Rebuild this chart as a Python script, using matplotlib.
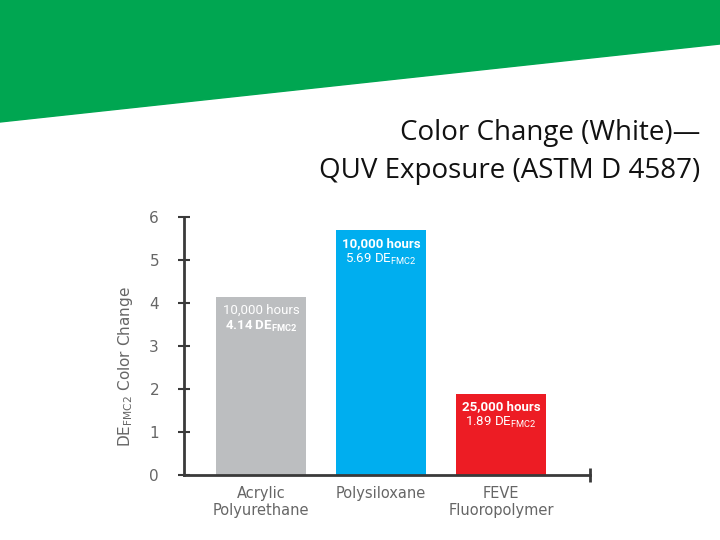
import matplotlib.pyplot as plt
from matplotlib.patches import Polygon

categories = ["Acrylic\nPolyurethane", "Polysiloxane", "FEVE\nFluoropolymer"]
values = [4.14, 5.69, 1.89]
hours = ["10,000 hours", "10,000 hours", "25,000 hours"]
colors = ["#BCBEC0", "#00AEEF", "#ED1C24"]
yticks = [0, 1, 2, 3, 4, 5, 6]

axis_col = "#3a3a3a"
label_col = "#666666"
narrow = ["Roboto", "DejaVu Sans"]

fig = plt.figure(figsize=(7.2, 5.4), dpi=100)

# green banner on top
banner = Polygon([(0, 1), (1, 1), (1, 1 - 44 / 540), (0, 1 - 122 / 540)],
                 closed=True, transform=fig.transFigure, color="#00A651", zorder=0)
fig.patches.append(banner)

fig.text(0.973, 1 - 152 / 540, "Color Change (White)\u2014\nQUV Exposure (ASTM D 4587)",
         ha="right", va="center", fontsize=20, family="Open Sans",
         color="#111111", linespacing=1.5)

ax = fig.add_axes([0.2556, 0.1204, 0.564, 0.4778])
x = list(range(len(values)))
bars = ax.bar(x, values, width=0.75, color=colors, zorder=2)

for i, b in enumerate(bars):
    top = b.get_height()
    cx = b.get_x() + b.get_width() / 2
    w1 = "normal" if i == 0 else "bold"
    w2 = "bold" if i == 0 else "normal"
    ax.text(cx, top - 0.16, hours[i], ha="center", va="top", color="white",
            fontsize=9.5, family=narrow, fontweight=w1)
    ax.text(cx, top - 0.5, "%.2f DE$_{\\mathregular{FMC2}}$" % values[i],
            ha="center", va="top", color="white", fontsize=9.5,
            family=narrow, fontweight=w2)

ax.set_xlim(-0.64, 2.74)
ax.set_ylim(0, 6)
ax.set_yticks(yticks)
ax.set_xticks(x)
ax.set_xticklabels(categories, fontsize=10.5, color=label_col)
ax.tick_params(axis="x", length=0, pad=8)
ax.set_xticks([2.74], minor=True)
ax.tick_params(axis="x", which="minor", direction="inout", length=10,
               width=2, color=axis_col)
ax.tick_params(axis="y", direction="inout", length=8, width=1.5,
               color=axis_col, labelcolor=label_col, labelsize=11, pad=14)

for s in ["top", "right"]:
    ax.spines[s].set_visible(False)
for s in ["left", "bottom"]:
    ax.spines[s].set_color(axis_col)
    ax.spines[s].set_linewidth(2)

ax.set_ylabel("DE$_{\\mathregular{FMC2}}$ Color Change", fontsize=11,
              color=label_col)
ax.yaxis.set_label_coords(-0.12, 0.42)

fig.savefig("out.png", dpi=100)
